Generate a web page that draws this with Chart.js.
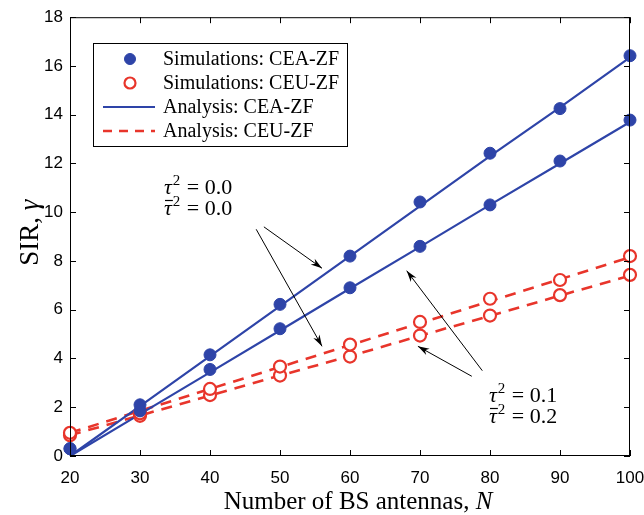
<!DOCTYPE html>
<html>
<head>
<meta charset="utf-8">
<script src="https://cdn.jsdelivr.net/npm/chart.js@4.4.0/dist/chart.umd.min.js"></script>
<style>
  html, body { margin: 0; padding: 0; background: #fff; }
  #wrap { width: 644px; height: 515px; }
</style>
</head>
<body>
<div id="wrap"><canvas id="sirChart" width="644" height="515"></canvas></div>
<script>
// number of BS antennas
const antennas = [20, 30, 40, 50, 60, 70, 80, 90, 100];

// simulations (markers)
const simCeaTau0 = [0.3, 2.1, 4.15, 6.22, 8.2, 10.42, 12.42, 14.25, 16.42];
const simCeaTau1 = [0.3, 1.85, 3.55, 5.22, 6.9, 8.6, 10.3, 12.1, 13.78];
const simCeuTau0 = [0.95, 1.75, 2.75, 3.67, 4.57, 5.5, 6.45, 7.22, 8.2];
const simCeuTau1 = [0.85, 1.65, 2.5, 3.3, 4.08, 4.94, 5.76, 6.6, 7.43];

// analysis (lines)
const anaCeaTau0 = [0.0, 2.05, 4.1, 6.15, 8.2, 10.25, 12.3, 14.3, 16.35];
const anaCeaTau1 = [0.0, 1.72, 3.43, 5.15, 6.87, 8.58, 10.3, 12.0, 13.7];
const anaCeuTau0 = [0.95, 1.85, 2.75, 3.65, 4.55, 5.45, 6.35, 7.25, 8.15];
const anaCeuTau1 = [0.85, 1.66, 2.48, 3.3, 4.1, 4.93, 5.75, 6.58, 7.4];

const xTicks = [20, 30, 40, 50, 60, 70, 80, 90, 100];
const yTicks = [0, 2, 4, 6, 8, 10, 12, 14, 16, 18];

const blue = '#2e44a8';
const red = '#e8352b';
const serif = '"Liberation Serif", "Times New Roman", serif';
const sans = '"Liberation Sans", Arial, sans-serif';

const toXY = ys => antennas.map((n, i) => ({ x: n, y: ys[i] }));

function simSet(label, ys, filled) {
  return {
    label: label,
    data: toXY(ys),
    showLine: false,
    pointRadius: 6,
    pointBorderWidth: filled ? 1 : 2.2,
    pointBackgroundColor: filled ? blue : '#fff',
    pointBorderColor: filled ? blue : red,
    borderColor: filled ? blue : red
  };
}
function anaSet(label, ys, color, dash) {
  return {
    label: label,
    data: toXY(ys),
    borderColor: color,
    borderWidth: dash ? 2.6 : 2.2,
    borderDash: dash ? [11, 8] : [],
    pointRadius: 0,
    tension: 0,
    fill: false
  };
}

// annotations: arrows in data units [fromX, fromY, toX, toY]
const arrows = [
  [47.7, 9.4, 56.0, 7.7],
  [46.6, 9.3, 56.0, 4.5],
  [78.9, 3.5, 68.1, 7.6],
  [77.4, 3.27, 69.7, 4.5]
];
const notes = [
  { x: 164, y: 194, a: '0.0', b: '0.0' },
  { x: 489, y: 402, a: '0.1', b: '0.2' }
];

function drawTau(ctx, x, y, bar, val) {
  ctx.fillStyle = '#000';
  ctx.textBaseline = 'alphabetic';
  ctx.textAlign = 'left';
  ctx.font = 'italic 22px ' + serif;
  ctx.fillText('τ', x, y);
  const w = ctx.measureText('τ').width;
  if (bar) {
    ctx.strokeStyle = '#000';
    ctx.lineWidth = 1.2;
    ctx.beginPath();
    ctx.moveTo(x + 1, y - 14.5);
    ctx.lineTo(x + w + 1, y - 14.5);
    ctx.stroke();
  }
  ctx.font = '15px ' + serif;
  ctx.fillText('2', x + w + 1, y - 9);
  ctx.font = '22px ' + serif;
  ctx.fillText('=', x + w + 15, y);
  ctx.fillText(val, x + w + 33, y);
}

const decor = {
  id: 'decor',
  afterDatasetsDraw(chart) {
    const { ctx, chartArea: a, scales: { x, y } } = chart;
    ctx.save();
    // box + inward ticks
    ctx.strokeStyle = '#000';
    ctx.lineWidth = 1;
    ctx.strokeRect(a.left + 0.5, a.top + 0.5, a.right - a.left - 1, a.bottom - a.top - 1);
    ctx.beginPath();
    xTicks.forEach(t => {
      const px = Math.round(x.getPixelForValue(t)) + 0.5;
      ctx.moveTo(px, a.bottom); ctx.lineTo(px, a.bottom - 6);
      ctx.moveTo(px, a.top); ctx.lineTo(px, a.top + 6);
    });
    yTicks.forEach(t => {
      const py = Math.round(y.getPixelForValue(t)) + 0.5;
      ctx.moveTo(a.left, py); ctx.lineTo(a.left + 6, py);
      ctx.moveTo(a.right, py); ctx.lineTo(a.right - 6, py);
    });
    ctx.stroke();

    // arrows
    ctx.lineWidth = 1;
    arrows.forEach(([x0, y0, x1, y1]) => {
      const p0 = [x.getPixelForValue(x0), y.getPixelForValue(y0)];
      const p1 = [x.getPixelForValue(x1), y.getPixelForValue(y1)];
      const ang = Math.atan2(p1[1] - p0[1], p1[0] - p0[0]);
      ctx.beginPath();
      ctx.moveTo(p0[0], p0[1]);
      ctx.lineTo(p1[0], p1[1]);
      ctx.stroke();
      ctx.fillStyle = '#000';
      ctx.beginPath();
      ctx.moveTo(p1[0], p1[1]);
      ctx.lineTo(p1[0] - 12 * Math.cos(ang - 0.3), p1[1] - 12 * Math.sin(ang - 0.3));
      ctx.lineTo(p1[0] - 8 * Math.cos(ang), p1[1] - 8 * Math.sin(ang));
      ctx.lineTo(p1[0] - 12 * Math.cos(ang + 0.3), p1[1] - 12 * Math.sin(ang + 0.3));
      ctx.closePath();
      ctx.fill();
    });
    notes.forEach(n => {
      drawTau(ctx, n.x, n.y, false, n.a);
      drawTau(ctx, n.x, n.y + 21, true, n.b);
    });

    // legend box
    const lx = 93, ly = 43, lw = 254, lh = 103;
    ctx.fillStyle = '#fff';
    ctx.fillRect(lx, ly, lw, lh);
    ctx.strokeStyle = '#000';
    ctx.lineWidth = 1;
    ctx.strokeRect(lx + 0.5, ly + 0.5, lw, lh);
    const rows = chart.data.datasets;
    const order = [0, 2, 4, 6];
    const labels = ['Simulations: CEA-ZF', 'Simulations: CEU-ZF', 'Analysis: CEA-ZF', 'Analysis: CEU-ZF'];
    order.forEach((di, i) => {
      const ds = rows[di];
      const cy = ly + 16 + i * 24;
      if (i < 2) {
        ctx.beginPath();
        ctx.arc(lx + 37, cy, 5.5, 0, Math.PI * 2);
        ctx.fillStyle = ds.pointBackgroundColor;
        ctx.fill();
        ctx.lineWidth = ds.pointBorderWidth;
        ctx.strokeStyle = ds.pointBorderColor;
        ctx.stroke();
      } else {
        ctx.beginPath();
        ctx.setLineDash(ds.borderDash.length ? [9, 7] : []);
        ctx.lineWidth = ds.borderWidth;
        ctx.strokeStyle = ds.borderColor;
        ctx.moveTo(lx + 10, cy);
        ctx.lineTo(lx + 62, cy);
        ctx.stroke();
        ctx.setLineDash([]);
      }
      ctx.fillStyle = '#000';
      ctx.font = '20px ' + serif;
      ctx.textAlign = 'left';
      ctx.textBaseline = 'middle';
      ctx.fillText(labels[i], lx + 70, cy + 1);
    });

    // axis titles
    ctx.fillStyle = '#000';
    ctx.textBaseline = 'alphabetic';
    const t1 = 'Number of BS antennas, ';
    ctx.font = 'italic 25px ' + serif;
    const wN = ctx.measureText('N').width;
    ctx.font = '25px ' + serif;
    const w1 = ctx.measureText(t1).width;
    const sx = (a.left + a.right) / 2 + 8 - (w1 + wN) / 2;
    ctx.textAlign = 'left';
    ctx.fillText(t1, sx, 509);
    ctx.font = 'italic 25px ' + serif;
    ctx.fillText('N', sx + w1, 509);

    ctx.translate(38, (a.top + a.bottom) / 2 - 4);
    ctx.rotate(-Math.PI / 2);
    ctx.font = '27px ' + serif;
    const t2 = 'SIR, ';
    const w2 = ctx.measureText(t2).width;
    ctx.font = 'italic 27px ' + serif;
    const wg = ctx.measureText('γ').width;
    ctx.font = '27px ' + serif;
    ctx.fillText(t2, -(w2 + wg) / 2, 0);
    ctx.font = 'italic 27px ' + serif;
    ctx.fillText('γ', -(w2 + wg) / 2 + w2, 0);
    ctx.restore();
  }
};

new Chart(document.getElementById('sirChart').getContext('2d'), {
  type: 'line',
  data: {
    datasets: [
      simSet('Simulations: CEA-ZF', simCeaTau0, true),
      simSet('Simulations: CEA-ZF', simCeaTau1, true),
      simSet('Simulations: CEU-ZF', simCeuTau0, false),
      simSet('Simulations: CEU-ZF', simCeuTau1, false),
      anaSet('Analysis: CEA-ZF', anaCeaTau0, blue, false),
      anaSet('Analysis: CEA-ZF', anaCeaTau1, blue, false),
      anaSet('Analysis: CEU-ZF', anaCeuTau0, red, true),
      anaSet('Analysis: CEU-ZF', anaCeuTau1, red, true)
    ]
  },
  options: {
    responsive: false,
    animation: false,
    clip: false,
    layout: { padding: { left: 0, top: 15, right: 14, bottom: 0 } },
    plugins: { legend: { display: false }, tooltip: { enabled: false } },
    scales: {
      x: {
        type: 'linear',
        min: 20, max: 100,
        afterBuildTicks: s => { s.ticks = xTicks.map(v => ({ value: v })); },
        afterFit: s => { s.height = 59; s.paddingRight = 0; s.paddingLeft = 0; },
        grid: { display: false, drawTicks: false },
        border: { display: false },
        ticks: { color: '#000', padding: 12, font: { family: sans, size: 17 } }
      },
      y: {
        min: 0, max: 18,
        afterBuildTicks: s => { s.ticks = yTicks.map(v => ({ value: v })); },
        afterFit: s => { s.width = 70; },
        grid: { display: false, drawTicks: false },
        border: { display: false },
        ticks: { color: '#000', padding: 7, font: { family: sans, size: 17 } }
      }
    }
  },
  plugins: [decor]
});
</script>
</body>
</html>
